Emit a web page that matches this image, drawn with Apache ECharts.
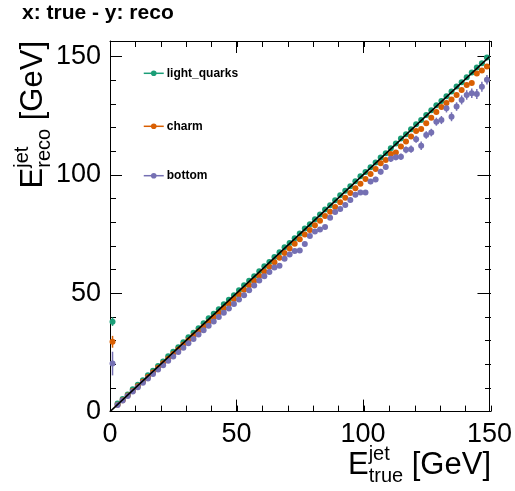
<!DOCTYPE html>
<html><head><meta charset="utf-8">
<script src="https://cdn.jsdelivr.net/npm/echarts@6/dist/echarts.min.js"></script>
<style>html,body{margin:0;padding:0;background:#fff}#c{width:515px;height:491px}</style>
</head><body><div id="c"></div>
<script>
// ---- data ----
const binCenters = [1,3,5,7,9,11,13,15,17,19,21,23,25,27,29,31,33,35,37,39,41,43,45,47,49,
  51,53,55,57,59,61,63,65,67,69,71,73,75,77,79,81,83,85,87,89,91,93,95,97,99,
  101,103,105,107,109,111,113,115,117,119,121,123,125,127,129,131,133,135,137,139,141,143,145,147,149];
const lightQuarks = [38.0,3.4,5.3,7.2,9.4,11.3,13.2,15.4,17.3,19.3,21.2,23.4,25.3,27.2,29.3,31.4,33.3,35.2,37.3,39.4,41.3,43.2,45.4,47.3,49.2,
  51.3,53.4,55.3,57.2,59.3,61.4,63.2,65.3,67.3,69.4,71.2,73.3,75.3,77.4,79.2,81.3,83.3,85.4,87.2,89.3,91.4,93.3,95.2,97.3,99.4,
  101.2,103.3,105.3,107.4,109.2,111.3,113.3,115.4,117.2,119.3,121.4,123.2,125.3,127.3,129.4,131.2,133.3,135.3,137.4,139.2,141.3,143.3,145.4,147.2,149.6];
const lightQuarksErr = [1.8,0.2,0.2,0.2,0.2,0.2,0.2,0.2,0.2,0.2,0.2,0.2,0.2,0.2,0.2,0.2,0.2,0.2,0.2,0.2,0.2,0.2,0.2,0.2,0.2,
  0.2,0.2,0.2,0.2,0.2,0.2,0.2,0.2,0.2,0.2,0.2,0.2,0.2,0.2,0.2,0.3,0.3,0.3,0.3,0.3,0.3,0.3,0.3,0.3,0.3,
  0.3,0.3,0.3,0.3,0.3,0.3,0.3,0.3,0.3,0.3,0.4,0.4,0.4,0.4,0.4,0.4,0.4,0.4,0.4,0.4,0.4,0.4,0.4,0.4,0.4];
const charm = [29.5,2.9,4.8,6.8,8.7,10.7,12.6,14.6,16.5,18.5,20.4,22.3,24.3,26.2,28.2,30.1,32.0,34.0,35.9,37.9,39.8,41.8,43.7,45.6,47.6,
  49.5,51.5,53.4,55.3,57.3,59.2,61.2,63.1,65.0,67.0,68.9,70.9,72.8,74.8,76.7,78.7,80.6,82.6,84.5,86.5,88.5,90.4,92.4,94.4,96.3,
  98.3,100.4,102.5,104.9,106.3,108.8,109.5,112.0,114.1,116.2,118.6,119.4,121.8,124.2,126.6,128.7,130.4,131.9,133.8,135.9,138.0,138.9,142.9,144.1,145.8];
const charmErr = [2.5,0.2,0.2,0.2,0.2,0.2,0.2,0.2,0.2,0.2,0.2,0.2,0.2,0.2,0.2,0.2,0.2,0.2,0.2,0.2,0.3,0.3,0.3,0.3,0.3,
  0.3,0.3,0.3,0.3,0.3,0.3,0.3,0.3,0.3,0.3,0.4,0.4,0.4,0.4,0.4,0.4,0.4,0.4,0.4,0.4,0.5,0.5,0.5,0.5,0.5,
  0.5,0.5,0.5,0.5,0.5,0.6,0.6,0.6,0.6,0.6,0.6,0.7,0.7,0.7,0.7,0.7,0.8,0.8,0.8,0.8,0.8,0.9,0.9,0.9,0.9];
const bottom = [20.3,2.8,4.7,6.6,8.5,10.3,12.2,14.0,15.9,17.8,19.6,21.5,23.3,25.2,27.0,28.9,30.7,32.6,34.4,36.3,38.1,40.0,41.8,43.6,45.5,
  47.4,49.2,51.3,53.3,55.4,57.2,59.0,60.9,61.6,64.6,66.4,67.9,68.1,70.8,74.2,76.1,76.9,78.0,81.9,84.3,85.6,87.3,89.4,91.6,92.6,
  92.6,97.2,98.1,101.4,103.4,106.8,107.5,107.7,110.6,110.9,115.1,112.3,116.9,117.9,122.5,123.2,128.2,124.6,128.9,131.7,133.8,134.5,134.2,137.3,140.2];
const bottomErr = [5.0,0.3,0.3,0.3,0.3,0.3,0.3,0.3,0.3,0.3,0.3,0.3,0.3,0.3,0.3,0.3,0.3,0.3,0.3,0.3,0.4,0.4,0.4,0.4,0.4,
  0.4,0.4,0.5,0.5,0.5,0.6,0.6,0.6,0.6,0.7,0.7,0.7,0.7,0.8,0.8,0.8,0.8,0.9,0.9,0.9,0.9,1.0,1.0,1.0,1.0,
  1.0,1.1,1.1,1.2,1.2,1.3,1.3,1.4,1.4,1.5,1.5,1.8,1.6,1.6,1.7,1.7,1.8,1.9,1.8,1.9,2.0,2.0,2.1,2.1,2.0];
const seriesNames = ['light_quarks','charm','bottom'];
const seriesColors = ['#1b9e77','#d95f02','#7570b3'];
const diagonal = [[0,0],[150,150]];
const axisTitleX = ['E','jet','true','[GeV]'];
const axisTitleY = ['E','jet','reco','[GeV]'];
const plotTitle = 'x: true - y: reco';
const xMin = 0, xMax = 150, yMin = 0, yMax = 156.6;

// ---- layout ----
const FONT = '"Liberation Sans", Arial, Helvetica, sans-serif';
const G = {left:110, right:24, top:41, bottom:79.4};
const chart = echarts.init(document.getElementById('c'), null, {renderer:'canvas'});
const ctx = document.createElement('canvas').getContext('2d');
function tw(t, size){ ctx.font = size + 'px "Liberation Sans"'; return ctx.measureText(t).width; }

function majorAxis(type, pos, gi, min, max, labels){
  return {type:'value', gridIndex:gi, position:pos, min, max, interval:50,
    axisLine:{show:true, onZero:false, lineStyle:{color:'#000', width:1}},
    axisTick:{show:true, inside:true, length:12, lineStyle:{color:'#000', width:1}},
    minorTick:{show:false}, splitLine:{show:false},
    axisLabel:{show:labels, color:'#000', fontFamily:FONT, fontSize:27, margin:type==='x'?9:9,
      showMaxLabel:true, showMinLabel:true,
      formatter:v => (Math.abs(v % 50) < 1e-6 ? String(v) : '')}};
}
function minorAxis(pos, gi, min, max){
  return {type:'value', gridIndex:gi, position:pos, min, max, interval:10,
    axisLine:{show:false, onZero:false}, axisTick:{show:true, inside:true, length:6, lineStyle:{color:'#000', width:1}},
    splitLine:{show:false}, axisLabel:{show:false}};
}

const dataSets = [lightQuarks, charm, bottom];
const errSets = [lightQuarksErr, charmErr, bottomErr];
const series = [];
dataSets.forEach((ys, k) => {
  series.push({
    type:'custom', name:seriesNames[k] + '_err', xAxisIndex:0, yAxisIndex:0, silent:true, z:2,
    data: binCenters.map((x,i) => [x, ys[i]-errSets[k][i], ys[i]+errSets[k][i]]),
    renderItem:(params, api) => {
      const p1 = api.coord([api.value(0), api.value(1)]);
      const p2 = api.coord([api.value(0), api.value(2)]);
      return {type:'line', shape:{x1:p1[0], y1:p1[1], x2:p2[0], y2:p2[1]}, style:{stroke:seriesColors[k], lineWidth:1.5}};
    }
  });
  series.push({
    type:'line', name:seriesNames[k], xAxisIndex:0, yAxisIndex:0, z:3,
    data: binCenters.map((x,i) => [x, ys[i]]),
    symbol:'circle', symbolSize:6, showSymbol:true, showAllSymbol:true,
    itemStyle:{color:seriesColors[k]}, lineStyle:{color:seriesColors[k], width:0},
    emphasis:{disabled:true}
  });
});
series.push({type:'line', name:'diag', xAxisIndex:0, yAxisIndex:0, z:5, data:diagonal, symbol:'none',
  lineStyle:{color:'#000', width:1.5}, silent:true});

const legendCenters = [74.3, 127.3, 176.7];
const legends = seriesNames.map((n,i) => ({
  data:[n], orient:'vertical', left:143, top:legendCenters[i]-7, padding:0, itemGap:0,
  itemWidth:20, itemHeight:7, selectedMode:false,
  lineStyle:{width:1.5}, textStyle:{fontFamily:FONT, fontWeight:'bold', fontSize:12, color:'#000', padding:[0,0,0,-2]}
}));

// axis titles (graphic text)
const S = 31, s = 20;
const graphics = [];
graphics.push({type:'text', left:22, top:3, style:{text:plotTitle, font:'bold 21px ' + FONT, fill:'#000'}});
{
  const wE = tw('E', S), wSc = Math.max(tw(axisTitleX[1], s), tw(axisTitleX[2], s)), sp = tw(' ', S), wG = tw(axisTitleX[3], S);
  const x0 = 491 - (wE + wSc + sp + wG);
  const B = 476;
  const mid = 0.35;
  graphics.push({type:'text', x:x0, y:B - mid*S, style:{text:axisTitleX[0], font:S+'px '+FONT, fill:'#000', verticalAlign:'middle'}});
  graphics.push({type:'text', x:x0+wE, y:461 - mid*s, style:{text:axisTitleX[1], font:s+'px '+FONT, fill:'#000', verticalAlign:'middle'}});
  graphics.push({type:'text', x:x0+wE, y:483 - mid*s, style:{text:axisTitleX[2], font:s+'px '+FONT, fill:'#000', verticalAlign:'middle'}});
  graphics.push({type:'text', x:x0+wE+wSc+sp, y:B - mid*S, style:{text:axisTitleX[3], font:S+'px '+FONT, fill:'#000', verticalAlign:'middle'}});
}
{
  const wE = tw('E', S), wSc = Math.max(tw(axisTitleY[1], s), tw(axisTitleY[2], s)), sp = tw(' ', S), wG = tw(axisTitleY[3], S);
  const total = wE + wSc + sp + wG;
  const startY = 41 + total;
  const BX = 44;
  const mid = 0.35;
  const children = [
    {type:'text', x:0, y:-mid*S, style:{text:axisTitleY[0], font:S+'px '+FONT, fill:'#000', verticalAlign:'middle'}},
    {type:'text', x:wE, y:-15 - mid*s, style:{text:axisTitleY[1], font:s+'px '+FONT, fill:'#000', verticalAlign:'middle'}},
    {type:'text', x:wE, y:7 - mid*s, style:{text:axisTitleY[2], font:s+'px '+FONT, fill:'#000', verticalAlign:'middle'}},
    {type:'text', x:wE+wSc+sp, y:-mid*S, style:{text:axisTitleY[3], font:S+'px '+FONT, fill:'#000', verticalAlign:'middle'}}
  ];
  graphics.push({type:'group', x:BX, y:startY, rotation:Math.PI/2, children});
}

chart.setOption({
  animation:false,
  backgroundColor:'#fff',
  grid:[Object.assign({containLabel:false}, G), Object.assign({containLabel:false}, G)],
  xAxis:[majorAxis('x','bottom',0,xMin,xMax,true), majorAxis('x','top',0,xMin,xMax,false),
         minorAxis('bottom',1,xMin,xMax), minorAxis('top',1,xMin,xMax)],
  yAxis:[majorAxis('y','left',0,yMin,yMax,true), majorAxis('y','right',0,yMin,yMax,false),
         minorAxis('left',1,yMin,yMax), minorAxis('right',1,yMin,yMax)],
  legend:legends,
  series,
  graphic:graphics
});
</script></body></html>
